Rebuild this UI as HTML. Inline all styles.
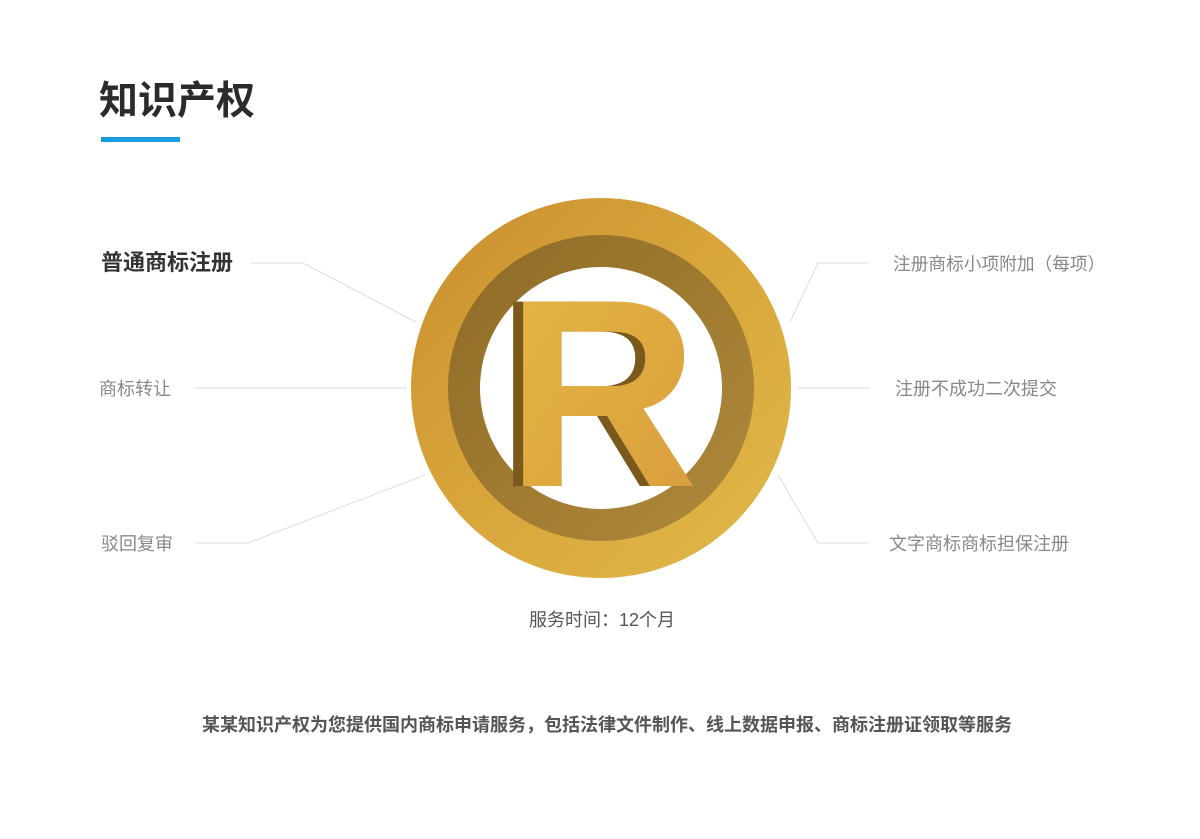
<!DOCTYPE html>
<html><head><meta charset="utf-8"><style>
body{margin:0;width:1200px;height:839px;background:#fff;position:relative;overflow:hidden;font-family:"Liberation Sans","Noto Sans CJK SC",sans-serif}
.t{position:absolute;white-space:nowrap}
</style></head><body>
<div class="t" style="left:99px;top:70px;font-size:39px;font-weight:bold;color:#2b2b2b">知识产权</div>
<div style="position:absolute;left:101px;top:137px;width:79px;height:5px;background:#169be0"></div>

<svg width="1200" height="839" style="position:absolute;left:0;top:0">
<defs>
<linearGradient id="g" x1="0" y1="0" x2="1" y2="1">
<stop offset="0" stop-color="#c98f2e"/><stop offset="0.5" stop-color="#d9a63c"/><stop offset="1" stop-color="#e0b94a"/></linearGradient>
<linearGradient id="g2" x1="0" y1="0" x2="1" y2="1">
<stop offset="0" stop-color="#8d6a25"/><stop offset="1" stop-color="#b08a3c"/></linearGradient>
<linearGradient id="g3" x1="0" y1="0" x2="1" y2="1">
<stop offset="0" stop-color="#e6b845"/><stop offset="1" stop-color="#d89c3c"/></linearGradient>
</defs>
<g stroke="#dcdcdc" stroke-width="1" fill="none">
<polyline points="250,263 303,263 416,322"/>
<polyline points="195,388 407,388"/>
<polyline points="195,543 248,543 425,475"/>
<polyline points="868,263 818,263 790,322"/>
<polyline points="798,388 870,388"/>
<polyline points="778,475 818,543 868,543"/>
</g>
<circle cx="601" cy="388" r="190" fill="url(#g)"/>
<circle cx="601" cy="388" r="153" fill="url(#g2)"/>
<circle cx="601" cy="388" r="121" fill="#fff"/>
<text x="598" y="486" text-anchor="middle" font-family="Liberation Sans" font-weight="bold" font-size="268" fill="#7a5a1c" transform="translate(-6,0)">R</text>
<text x="602" y="486" text-anchor="middle" font-family="Liberation Sans" font-weight="bold" font-size="268" fill="url(#g3)">R</text>
</svg>

<div class="t" style="left:101px;top:245px;font-size:22px;font-weight:bold;color:#333">普通商标注册</div>
<div class="t" style="left:99px;top:375px;font-size:18px;color:#888">商标转让</div>
<div class="t" style="left:101px;top:530px;font-size:18px;color:#888">驳回复审</div>
<div class="t" style="left:893px;top:250px;font-size:17.7px;color:#888">注册商标小项附加（每项）</div>
<div class="t" style="left:895px;top:375px;font-size:18px;color:#888">注册不成功二次提交</div>
<div class="t" style="left:889px;top:530px;font-size:18px;color:#888">文字商标商标担保注册</div>
<div class="t" style="left:0;width:1204px;text-align:center;top:606px;font-size:18px;color:#555">服务时间：12个月</div>
<div class="t" style="left:0;width:1214px;text-align:center;top:711px;font-size:18px;font-weight:bold;color:#555">某某知识产权为您提供国内商标申请服务，包括法律文件制作、线上数据申报、商标注册证领取等服务</div>
</body></html>
